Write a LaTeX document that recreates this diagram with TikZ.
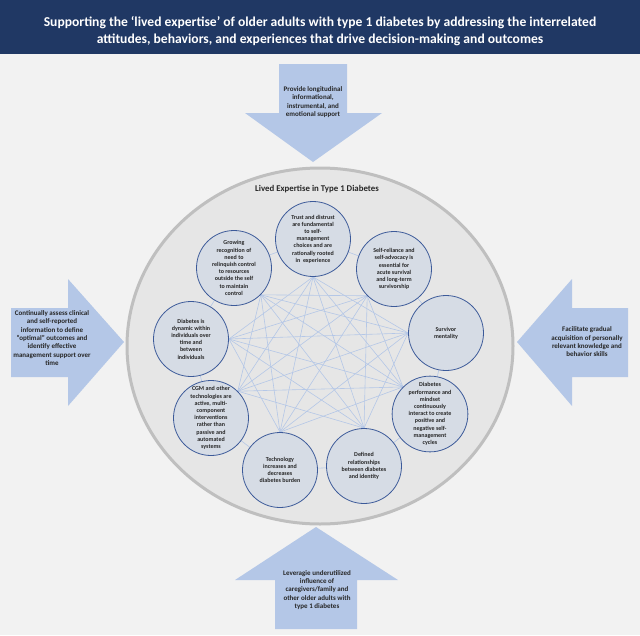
\documentclass[tikz,border=0pt]{standalone}
\usepackage{fontspec}
\setmainfont{Carlito}
\usetikzlibrary{calc}
\definecolor{pagebg}{HTML}{F2F2F2}
\definecolor{headbg}{HTML}{203864}
\definecolor{ellfill}{HTML}{E6E6E6}
\definecolor{ellline}{HTML}{BFBFBF}
\definecolor{arrfill}{HTML}{B4C7E7}
\definecolor{circfill}{HTML}{D6DCE5}
\definecolor{circline}{HTML}{3C5A99}
\definecolor{edgecol}{HTML}{B4C7E7}
\pgfdeclarelayer{back}
\pgfdeclarelayer{edges}
\pgfsetlayers{back,edges,main}
\tikzset{
  idea/.style={circle, draw=circline, line width=0.8pt, fill=circfill, minimum size=75pt, inner sep=0pt, align=center, font=\bfseries\fontsize{6}{7.2}\selectfont, text=black!85},
  arrowtext/.style={align=center, font=\bfseries\fontsize{7}{8.3}\selectfont, text=black!85, inner sep=0pt},
  blockarrow/.style={fill=arrfill, draw=none},
  link/.style={draw=edgecol, line width=0.6pt},
}
\begin{document}
\begin{tikzpicture}[x=1pt,y=-1pt]
\useasboundingbox (0,0) rectangle (640,635);
\begin{pgfonlayer}{back}
\fill[pagebg] (0,0) rectangle (640,635);
\fill[headbg] (0,0) rectangle (640,54);
\draw[ellline, line width=3pt, fill=ellfill] (320,346) ellipse [x radius=193, y radius=178];
\end{pgfonlayer}
\node[text=white, align=center, font=\bfseries\fontsize{13.6}{17.5}\selectfont, inner sep=0pt] (title) at (320,31)
  {Supporting the ‘lived expertise’ of older adults with type 1 diabetes by addressing the interrelated\\attitudes, behaviors, and experiences that drive decision-making and outcomes};
% block arrows
\fill[blockarrow] (279,64) -- (347,64) -- (347,113) -- (382,113) -- (313,162) -- (245,113) -- (279,113) -- cycle;
\fill[blockarrow] (11,308) -- (68,308) -- (68,279) -- (124,342) -- (68,406) -- (68,377) -- (11,377) -- cycle;
\fill[blockarrow] (628,308) -- (572,308) -- (572,279) -- (517,342) -- (572,406) -- (572,377) -- (628,377) -- cycle;
\fill[blockarrow] (275,629) -- (357,629) -- (357,580) -- (398,580) -- (316,527) -- (235,580) -- (275,580) -- cycle;
\node[arrowtext] (ta) at (313,102) {Provide longitudinal\\informational,\\instrumental, and\\emotional support};
\node[arrowtext] (la) at (52,338) {Continually assess clinical\\and self-reported\\information to define\\“optimal” outcomes and\\identify effective\\management support over\\time};
\node[arrowtext] (ra) at (587,342) {Facilitate gradual\\acquisition of personally\\relevant knowledge and\\behavior skills};
\node[arrowtext] (ba) at (317,590) {Leveragie underutilized\\influence of\\caregivers/family and\\other older adults with\\type 1 diabetes};
\node[font=\bfseries\fontsize{8.8}{10}\selectfont, text=black!85, inner sep=0pt] (lt) at (317,189) {Lived Expertise in Type 1 Diabetes};
% idea circles
\node[idea] (n1) at (313,239) {Trust and distrust\\are fundamental\\to self-\\management\\choices and are\\rationally rooted\\in~ experience};
\node[idea] (n2) at (394,269) {Self-reliance and\\self-advocacy is\\essential for\\acute survival\\and long-term\\survivorship};
\node[idea] (n3) at (446,333) {Survivor\\mentality};
\node[idea] (n4) at (430,414) {Diabetes\\performance and\\mindset\\continuously\\interact to create\\positive and\\negative self-\\management\\cycles};
\node[idea] (n5) at (364,466) {Defined\\relationships\\between diabetes\\and identity};
\node[idea] (n6) at (280,470) {Technology\\increases and\\decreases\\diabetes burden};
\node[idea] (n7) at (211,418) {CGM and other\\technologies are\\active, multi-\\component\\interventions\\rather than\\passive and\\automated\\systems};
\node[idea] (n8) at (191,339) {Diabetes is\\dynamic within\\individuals over\\time and\\between\\individuals};
\node[idea] (n9) at (234,268) {Growing\\recognition of\\need to\\relinquish control\\to resources\\outside the self\\to maintain\\control};
% hub points
\coordinate (p1) at (n1.-90);
\coordinate (p2) at (n2.225);
\coordinate (p3) at (n3.180);
\coordinate (p4) at (n4.135);
\coordinate (p5) at (n5.90);
\coordinate (p6) at (n6.90);
\coordinate (p7) at (n7.45);
\coordinate (p8) at (n8.0);
\coordinate (p9) at (n9.-45);
\begin{pgfonlayer}{edges}
% ring links between neighbours
\foreach \a/\b in {n1/n2,n2/n3,n3/n4,n4/n5,n5/n6,n6/n7,n7/n8,n8/n9,n9/n1}
  \draw[link] (\a) -- (\b);
% cross links
\foreach \a/\b in {p1/p3,p1/p4,p1/p5,p1/p6,p1/p7,p1/p8,
                   p2/p4,p2/p5,p2/p6,p2/p7,p2/p8,p2/p9,
                   p3/p5,p3/p6,p3/p7,p3/p8,p3/p9,
                   p4/p6,p4/p7,p4/p8,p4/p9,
                   p5/p7,p5/p8,p5/p9,
                   p6/p8,p6/p9,
                   p7/p9}
  \draw[link] (\a) -- (\b);
\end{pgfonlayer}
\end{tikzpicture}
\end{document}
